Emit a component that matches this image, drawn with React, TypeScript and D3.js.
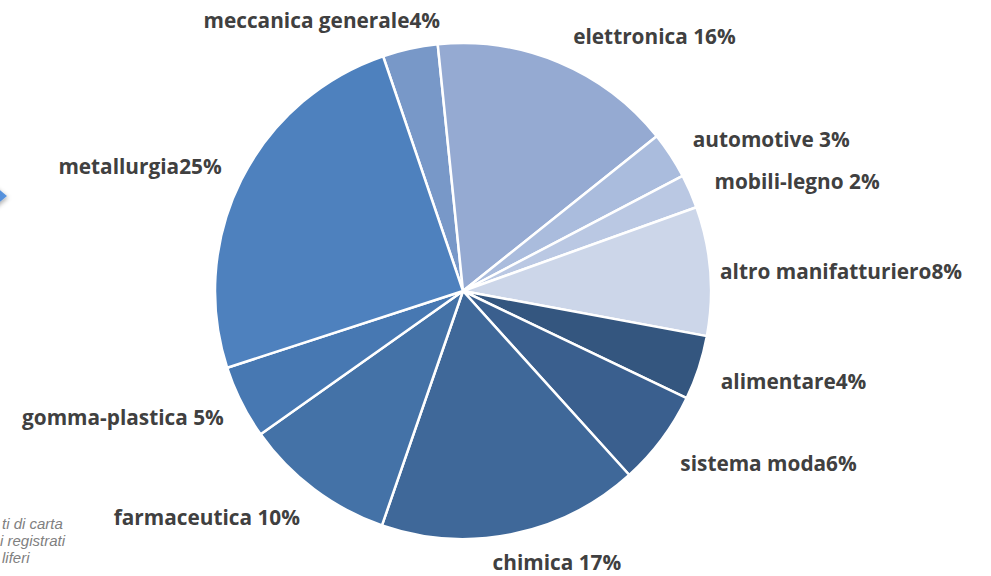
import React from 'react'
import * as d3 from 'd3'

// shares (percent of the whole), clockwise from "meccanica generale"
const sectors = ['meccanica generale', 'elettronica', 'automotive', 'mobili-legno', 'altro manifatturiero', 'alimentare', 'sistema moda', 'chimica', 'farmaceutica', 'gomma-plastica', 'metallurgia']
const shares = [3.6, 15.9, 3.05, 2.2, 8.4, 4.2, 6.2, 17.0, 9.9, 4.8, 24.8]
const labels = ['meccanica generale4%', 'elettronica 16%', 'automotive 3%', 'mobili-legno 2%', 'altro manifatturiero8%', 'alimentare4%', 'sistema moda6%', 'chimica 17%', 'farmaceutica 10%', 'gomma-plastica 5%', 'metallurgia25%']
const noteLines = ['ti di carta', 'i registrati', 'liferi']

const colors = ['#7898c8', '#95aad2', '#aabcdd', '#bac8e3', '#ccd6e9', '#34567f', '#3a5f8e', '#3f6899', '#4472a7', '#4778b2', '#4e81be']

// label placement: anchor + nudge from the label-arc point
const labelAnchor = ['end', 'start', 'start', 'start', 'start', 'start', 'start', 'middle', 'end', 'end', 'end']
const labelNudge: [number, number][] = [[39, 12], [-2, 12], [-13, 7], [-14, 7], [-32, 3], [-18, 0], [-15, -2], [36, -13], [11, -6], [20, -4], [18, 5]]

const W = 991
const H = 576
const cx = 463
const cy = 291
const radius = 248
const startDeg = -18.8

export default function App() {
  const pie = d3.pie<number>().sort(null).value(d => d)
    .startAngle(startDeg * Math.PI / 180)
    .endAngle((startDeg + 360) * Math.PI / 180)
  const arcs = pie(shares)
  const arc = d3.arc<d3.PieArcDatum<number>>().innerRadius(0).outerRadius(radius)
  const labelArc = d3.arc<d3.PieArcDatum<number>>().innerRadius(290).outerRadius(290)

  return (
    <svg width={W} height={H} style={{ position: 'absolute', left: 0, top: 0, background: '#fff' }}>
      <defs>
        <linearGradient id="tip" x1="0" x2="1" y1="0" y2="0">
          <stop offset="0" stopColor="#3a78c8" />
          <stop offset="1" stopColor="#5b96e0" />
        </linearGradient>
        <filter id="shadow" x="-50%" y="-50%" width="200%" height="200%">
          <feDropShadow dx="1" dy="2" stdDeviation="2" floodColor="#000" floodOpacity="0.3" />
        </filter>
      </defs>
      {/* cut-off decoration at the left edge */}
      <path d="M -22 172 L 7 196 L -22 220 Z" fill="url(#tip)" filter="url(#shadow)" />
      <g transform={`translate(${cx},${cy})`}>
        {arcs.map((a, i) => (
          <path key={sectors[i]} d={arc(a) ?? ''} fill={colors[i]} stroke="#fff" strokeWidth={2.5} strokeLinejoin="round" />
        ))}
        {arcs.map((a, i) => {
          const [x, y] = labelArc.centroid(a)
          return (
            <text key={'l' + i} x={x + labelNudge[i][0]} y={y + labelNudge[i][1]}
              textAnchor={labelAnchor[i] as any} dominantBaseline="central"
              fontFamily="'Open Sans', Lato, sans-serif" fontWeight={700} fontSize={20.8} fill="#404040">
              {labels[i]}
            </text>
          )
        })}
      </g>
      {noteLines.map((t, i) => (
        <text key={t} x={i === 1 ? 0 : 2} y={529 + i * 17} fontFamily="Arial, 'Liberation Sans', sans-serif"
          fontStyle="italic" fontSize={15} fill="#808080">{t}</text>
      ))}
    </svg>
  )
}
